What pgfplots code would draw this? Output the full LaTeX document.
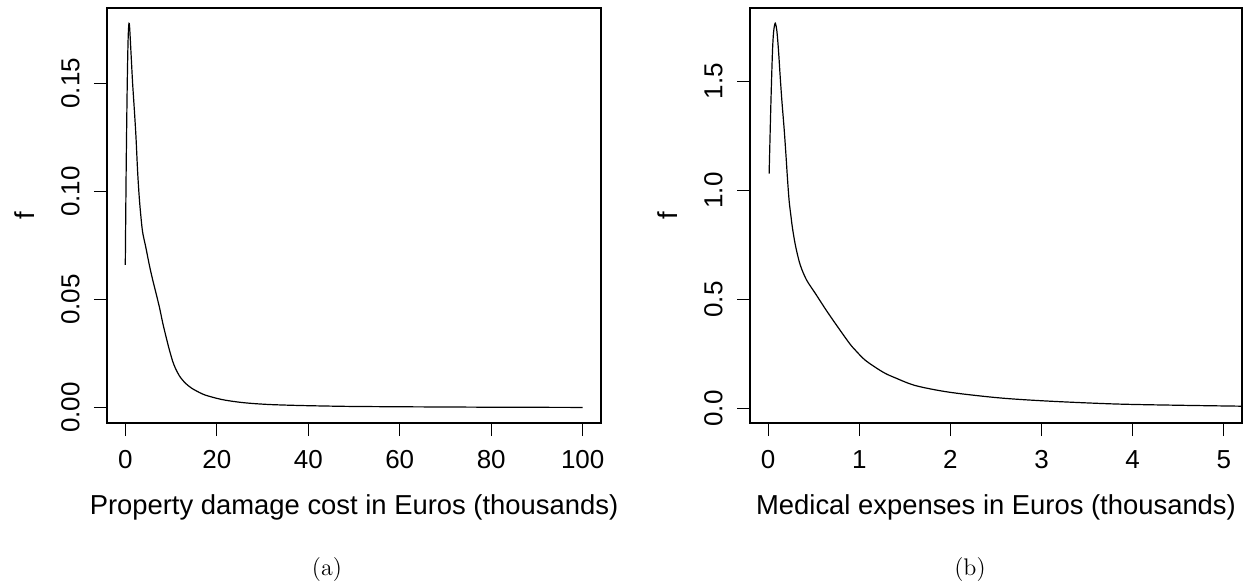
\documentclass[border=0pt]{standalone}
\usepackage{pgfplots}
\pgfplotsset{compat=1.18}
\usepackage{fontspec}
\newfontfamily\arial{Liberation Sans}
\begin{document}
\begin{tikzpicture}
\path[use as bounding box] (0bp,0bp) rectangle (622bp,293.5bp);
\pgfplotsset{
  rstyle/.style={
    scale only axis,
    height=207.5bp,
    axis line style={line width=0.6bp},
    tick style={line width=0.6bp,black},
    tick align=outside,
    major tick length=6.5bp,
    xtick pos=left, ytick pos=left,
    tick label style={font=\arial\fontsize{13bp}{15bp}\selectfont},
    label style={font=\arial\fontsize{13.7bp}{16bp}\selectfont},
    xticklabel style={anchor=north, inner sep=0pt},
    yticklabel style={rotate=90, anchor=south, inner sep=0pt},
    xticklabel shift=7bp,
    yticklabel shift=7bp,
    xlabel style={at={(axis description cs:0.5,0)}, anchor=base, yshift=-45.5bp, inner sep=0pt},
    clip=true,
  }
}
\begin{axis}[rstyle,
  at={(53.5bp,82bp)}, anchor=south west, width=247bp,
  xmin=-4, xmax=104, ymin=-0.0071, ymax=0.1848,
  xtick={0,20,40,60,80,100}, xticklabels={0,20,40,60,80,100},
  ytick={0,0.05,0.10,0.15}, yticklabels={0.00,0.05,0.10,0.15},
  xlabel={Property damage cost in Euros (thousands)},
  ylabel={f},
  ylabel style={at={(axis description cs:-0.1457,0.5)}, rotate=0, anchor=south, inner sep=0pt},
]
\addplot[black, line width=0.6bp, smooth, tension=0.5] coordinates {
(0,0.066) (0.1,0.090) (0.2,0.112) (0.3,0.130) (0.4,0.146) (0.5,0.159) (0.6,0.169) (0.7,0.175) (0.8,0.1777)
(0.9,0.177) (1.0,0.174) (1.3,0.162) (1.6,0.150) (2.0,0.137) (2.34,0.125) (2.7,0.109) (3.06,0.097)
(3.43,0.088) (3.8,0.081) (4.5,0.074) (5.25,0.066) (6.0,0.059) (7.4,0.047) (8.2,0.039) (9.0,0.032)
(9.6,0.027) (10.35,0.0215) (11.0,0.018) (11.8,0.0148) (12.5,0.0128) (13.3,0.0110) (14.5,0.0090)
(16.2,0.0070) (17.5,0.0058) (20,0.0043) (22,0.0034) (25,0.0025) (28,0.0019) (32,0.0014) (38,0.0010)
(45,0.0007) (50,0.00055) (60,0.0004) (70,0.0003) (80,0.0002) (90,0.00015) (100,0.0001)
};
\end{axis}
\begin{axis}[rstyle,
  at={(375bp,82bp)}, anchor=south west, width=246bp,
  xmin=-0.2, xmax=5.2, ymin=-0.066, ymax=1.836,
  xtick={0,1,2,3,4,5}, xticklabels={0,1,2,3,4,5},
  ytick={0,0.5,1.0,1.5}, yticklabels={0.0,0.5,1.0,1.5},
  xlabel={Medical expenses in Euros (thousands)},
  ylabel={f},
  ylabel style={at={(axis description cs:-0.1463,0.5)}, rotate=0, anchor=south, inner sep=0pt},
]
\addplot[black, line width=0.6bp, smooth, tension=0.5] coordinates {
(0.01,1.077) (0.03,1.41) (0.047,1.64) (0.06,1.73) (0.077,1.766) (0.095,1.73) (0.113,1.64) (0.13,1.53)
(0.15,1.41) (0.175,1.28) (0.195,1.16) (0.212,1.05) (0.23,0.95) (0.25,0.88) (0.267,0.825) (0.30,0.745)
(0.35,0.66) (0.42,0.59) (0.52,0.526) (0.63,0.455) (0.74,0.388) (0.89,0.300) (0.96,0.266) (1.07,0.220)
(1.26,0.167) (1.40,0.140) (1.62,0.105) (1.99,0.075) (2.54,0.049) (3.09,0.034) (3.82,0.021) (4.55,0.015)
(5.2,0.011) (5.4,0.010)
};
\end{axis}
\node[anchor=base, font=\fontsize{12bp}{14bp}\selectfont, inner sep=0pt] at (163.5bp,6bp) {(a)};
\node[anchor=base, font=\fontsize{12bp}{14bp}\selectfont, inner sep=0pt] at (485bp,6bp) {(b)};
\end{tikzpicture}
\end{document}
